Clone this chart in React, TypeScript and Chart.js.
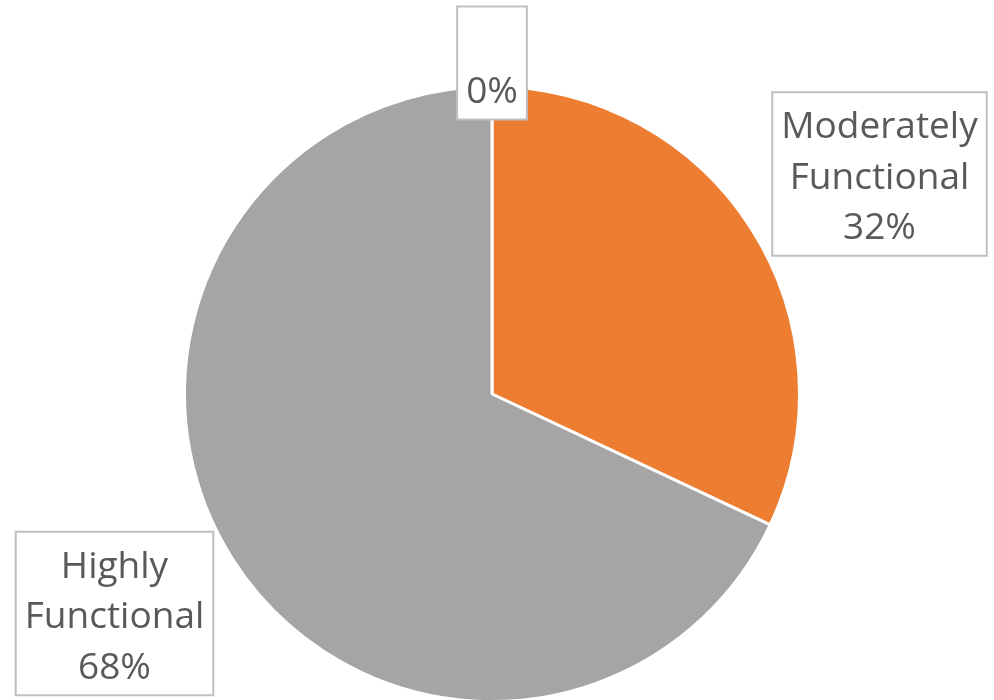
import React, { useEffect, useRef } from "react";
import { Chart, registerables } from "chart.js";

Chart.register(...registerables);

const categories = ["", "Moderately Functional", "Highly Functional"];
const labelLines = [[""], ["Moderately", "Functional"], ["Highly", "Functional"]];
const values = [0, 32, 68];
const percentLabels = ["0%", "32%", "68%"];
const colors = ["#4472C4", "#ED7D31", "#A5A5A5"];

// label box centres (layout only)
const labelCenters = [
  [492, 63],
  [879.5, 174],
  [114.5, 613.5],
];

const FONT = "37px 'Open Sans', sans-serif";
const LINE_H = 50.5;
const PAD_X = 9;
const PAD_Y = 6;

const labelPlugin = {
  id: "boxLabels",
  afterDatasetsDraw(chart: any) {
    const ctx = chart.ctx as CanvasRenderingContext2D;
    ctx.save();
    ctx.font = FONT;
    ctx.textAlign = "center";
    ctx.textBaseline = "middle";
    values.forEach((_, i) => {
      const lines = [...labelLines[i], percentLabels[i]];
      let w = 0;
      lines.forEach((l) => (w = Math.max(w, ctx.measureText(l).width)));
      const bw = w + PAD_X * 2;
      const bh = lines.length * LINE_H + PAD_Y * 2;
      const [cx, cy] = labelCenters[i];
      const x0 = cx - bw / 2;
      const y0 = cy - bh / 2;
      ctx.fillStyle = "#ffffff";
      ctx.fillRect(x0, y0, bw, bh);
      ctx.strokeStyle = "#BFBFBF";
      ctx.lineWidth = 2;
      ctx.strokeRect(x0, y0, bw, bh);
      ctx.fillStyle = "#595959";
      lines.forEach((l, j) => {
        ctx.fillText(l, cx, y0 + PAD_Y + LINE_H * (j + 0.5) + 4);
      });
    });
    ctx.restore();
  },
};

export default function App() {
  const ref = useRef<HTMLCanvasElement>(null);
  useEffect(() => {
    if (!ref.current) return;
    const chart = new Chart(ref.current, {
      type: "pie",
      data: {
        labels: categories,
        datasets: [
          {
            data: values,
            backgroundColor: colors,
            borderColor: "#ffffff",
            borderWidth: 3,
          },
        ],
      },
      options: {
        animation: false,
        responsive: false,
        maintainAspectRatio: false,
        layout: { padding: { left: 183, right: 193, top: 85, bottom: 17 } },
        plugins: {
          legend: { display: false },
          tooltip: { enabled: false },
        },
      },
      plugins: [labelPlugin],
    });
    return () => chart.destroy();
  }, []);
  return (
    <div
      style={{
        position: "fixed",
        left: 0,
        top: 0,
        width: 994,
        height: 700,
        overflow: "hidden",
        background: "#ffffff",
      }}
    >
      <canvas ref={ref} width={994} height={720} style={{ display: "block" }} />
    </div>
  );
}
